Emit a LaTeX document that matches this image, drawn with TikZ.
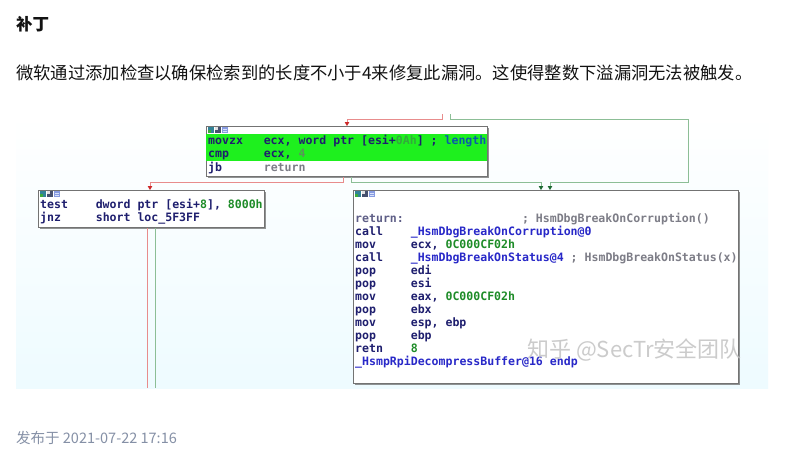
\documentclass[tikz,border=0pt]{standalone}
\usepackage{fontspec}
\setmainfont{Noto Sans CJK SC}
\newfontfamily\codefont{DejaVu Sans Mono}
\usetikzlibrary{arrows.meta,shadows}
\definecolor{navy}{RGB}{30,30,110}
\definecolor{idagreen}{RGB}{30,140,40}
\definecolor{litgreen}{RGB}{50,170,60}
\definecolor{fourgreen}{RGB}{90,150,90}
\definecolor{idablue}{RGB}{40,40,200}
\definecolor{lenblue}{RGB}{10,90,170}
\definecolor{idagray}{RGB}{125,125,135}
\definecolor{retgray}{RGB}{95,95,135}
\definecolor{hlgreen}{RGB}{30,240,30}
\definecolor{bordc}{RGB}{115,115,115}
\definecolor{redl}{RGB}{232,140,140}
\definecolor{redtip}{RGB}{205,40,40}
\definecolor{grnl}{RGB}{140,190,150}
\definecolor{grntip}{RGB}{30,105,50}
\definecolor{bgcyan}{RGB}{238,251,255}
\definecolor{txt}{RGB}{18,18,18}
\definecolor{foot}{RGB}{133,144,166}
\newcommand\mn[1]{\makebox[55.6pt][l]{#1}}
\newcommand\tbicons[2]{%
  \fill[fill={rgb,255:red,50;green,130;blue,150}] (#1,#2) rectangle ++(6,6);
  \fill[fill={rgb,255:red,60;green,170;blue,60}] (#1,#2+3) rectangle ++(3,3);
  \fill[fill={rgb,255:red,70;green,80;blue,110}] (#1+7,#2) rectangle ++(6,6);
  \fill[fill={rgb,255:red,225;green,225;blue,225}] (#1+7,#2) rectangle ++(3,3);
  \fill[fill={rgb,255:red,135;green,155;blue,225}] (#1+14,#2) rectangle ++(6,6);
  \fill[fill={rgb,255:red,215;green,225;blue,250}] (#1+15,#2+1.5) rectangle ++(4,1);
  \fill[fill={rgb,255:red,215;green,225;blue,250}] (#1+15,#2+3.5) rectangle ++(4,1);}
\tikzset{
  blockbox/.style={draw=bordc, line width=0.8pt, fill=white, inner sep=0pt, anchor=north west,
    drop shadow={shadow xshift=2pt, shadow yshift=-2pt, opacity=0.7, fill=black!60}},
  code/.style={anchor=mid west, inner sep=0pt, text=navy,
    font=\codefont\bfseries\fontsize{11.55}{13}\selectfont},
  redwire/.style={draw=redl, line width=0.9pt},
  grnwire/.style={draw=grnl, line width=0.9pt},
  redarr/.style={redwire, -{Triangle[width=4.5pt,length=4pt,color=redtip]}},
  grnarr/.style={grnwire, -{Triangle[width=4.5pt,length=4pt,color=grntip]}},
}
\begin{document}
\begin{tikzpicture}[x=1pt,y=-1pt]
\useasboundingbox (0,0) rectangle (810,458);
\fill[white] (0,0) rectangle (810,458);
% texts
\node[anchor=mid west, inner sep=0pt, text=txt, font=\bfseries\fontsize{16.5}{18}\selectfont] (head) at (16,28) {补丁};
\node[anchor=mid west, inner sep=0pt, text=txt, font=\fontsize{17.3}{20}\selectfont] (para) at (16,77) {微软通过添加检查以确保检索到的长度不小于4来修复此漏洞。这使得整数下溢漏洞无法被触发。};
\node[anchor=mid west, inner sep=0pt, text=foot, font=\fontsize{14.5}{16}\selectfont] (footer) at (16,441) {发布于 2021-07-22 17:16};
% screenshot background
\shade[top color=white, bottom color=bgcyan] (16,114) rectangle (768,388);
% blocks
\node[blockbox, minimum width=281pt, minimum height=50pt] (b1) at (206,126) {};
\node[blockbox, minimum width=226pt, minimum height=37pt] (b2) at (38,190) {};
\node[blockbox, minimum width=385pt, minimum height=193pt] (b3) at (353,190) {};
\fill[hlgreen] (206.4,134) rectangle (486.6,161);
\tbicons{207.5}{127}
\tbicons{39.5}{191}
\tbicons{354.5}{191}
% connectors
\coordinate (rt) at (442,114);
\coordinate (gt) at (450,114);
\coordinate (rb) at (147,388);
\coordinate (gb) at (155,388);
\draw[redarr] (rt) |- (347,119) -- (347,0 |- b1.north);
\draw[grnarr] (gt) |- (688,119) -- (688,182) -| (550,0 |- b3.north);
\draw[redarr] (343,0 |- b1.south) |- (150,182) -- (150,0 |- b2.north);
\draw[grnarr] (351,0 |- b1.south) |- (541,182) -- (541,0 |- b3.north);
\draw[redwire] (147,0 |- b2.south) -- (rb);
\draw[grnwire] (155,0 |- b2.south) -- (gb);
% block 1 code
\node[code] (l11) at (208,142) {\mn{movzx}ecx, word ptr [esi+\textcolor{litgreen}{0Ah}] ; \textcolor{lenblue}{length}};
\node[code] (l12) at (208,155) {\mn{cmp}ecx, \textcolor{fourgreen}{4}};
\node[code] (l13) at (208,168.5) {\mn{jb}\textcolor{idagray}{return}};
% block 2 code
\node[code] (l21) at (40,205.7) {\mn{test}dword ptr [esi+\textcolor{idagreen}{8}], \textcolor{idagreen}{8000h}};
\node[code] (l22) at (40,219) {\mn{jnz}short loc\_5F3FF};
% block 3 code
\node[code] (l31) at (355,219.3) {\makebox[166.8pt][l]{\textcolor{retgray}{return:}}\textcolor{idagray}{; HsmDbgBreakOnCorruption()}};
\node[code] (l32) at (355,232.3) {\mn{call}\textcolor{idablue}{\_HsmDbgBreakOnCorruption@0}};
\node[code] (l33) at (355,245.3) {\mn{mov}ecx, \textcolor{idagreen}{0C000CF02h}};
\node[code] (l34) at (355,258.3) {\mn{call}\textcolor{idablue}{\_HsmDbgBreakOnStatus@4} \textcolor{idagray}{; HsmDbgBreakOnStatus(x)}};
\node[code] (l35) at (355,271.3) {\mn{pop}edi};
\node[code] (l36) at (355,284.3) {\mn{pop}esi};
\node[code] (l37) at (355,297.3) {\mn{mov}eax, \textcolor{idagreen}{0C000CF02h}};
\node[code] (l38) at (355,310.3) {\mn{pop}ebx};
\node[code] (l39) at (355,323.3) {\mn{mov}esp, ebp};
\node[code] (l3a) at (355,336.3) {\mn{pop}ebp};
\node[code] (l3b) at (355,349.3) {\mn{retn}\textcolor{idagreen}{8}};
\node[code] (l3c) at (355,362.3) {\textcolor{idablue}{\_HsmpRpiDecompressBuffer@16 endp}};
% watermark
\node[anchor=mid west, inner sep=0pt, text=gray!50, opacity=0.8, font=\fontsize{22}{22}\selectfont] (wm) at (527,355) {知乎 @SecTr安全团队};
\end{tikzpicture}
\end{document}
